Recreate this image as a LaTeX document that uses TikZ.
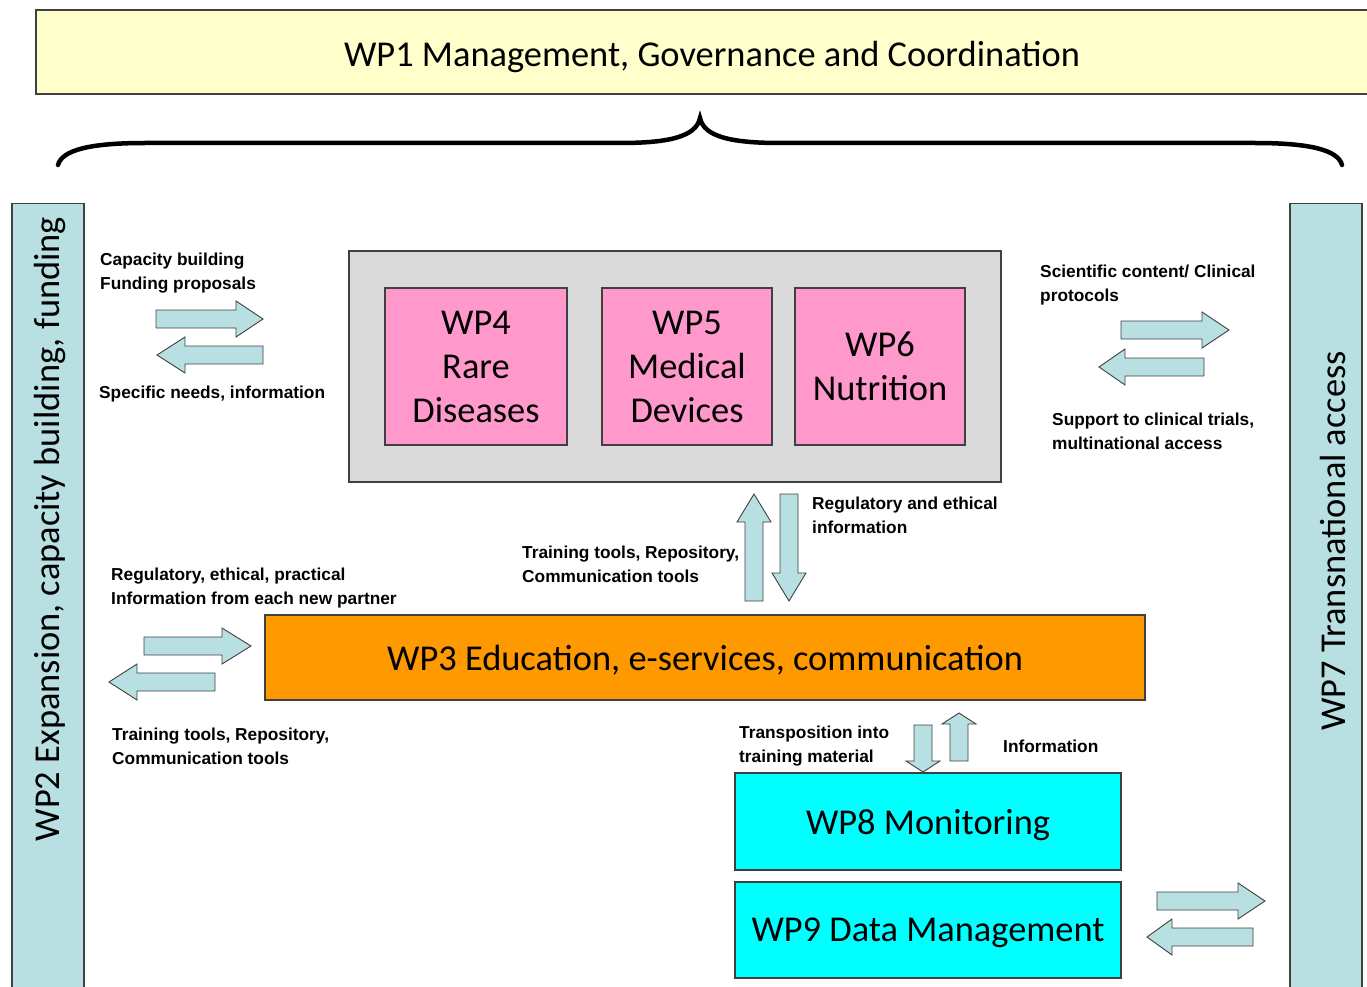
\documentclass[tikz,border=0pt]{standalone}
\usepackage{fontspec}
\setmainfont{Carlito}
\newfontfamily\lblfont{Liberation Sans}
\definecolor{wpyellow}{HTML}{FFFFCC}
\definecolor{wpteal}{HTML}{B8DFE2}
\definecolor{wpgray}{HTML}{DADADA}
\definecolor{wppink}{HTML}{FF99CC}
\definecolor{wporange}{HTML}{FF9900}
\definecolor{wpcyan}{HTML}{00FFFF}
\definecolor{wpline}{HTML}{404040}
\tikzset{
  box/.style={draw=wpline, line width=1.3pt, inner sep=0pt, align=center},
  bigtext/.style={font=\fontsize{36.4}{44}\selectfont, text depth=0pt},
  lbl/.style={font=\lblfont\bfseries\fontsize{17.3}{24}\selectfont, align=left, inner sep=0pt, anchor=west},
  barrow/.style={draw=wpline, line width=0.9pt, fill=wpteal, line join=miter},
}
% horizontal block arrow: y-center, x-tail, x-headbase, x-tip
\newcommand\arrH[4]{\draw[barrow] (#2,#1-9) -- (#3,#1-9) -- (#3,#1-18) -- (#4,#1) -- (#3,#1+18) -- (#3,#1+9) -- (#2,#1+9) -- cycle;}
% vertical block arrow: x-center, y-tail, y-headbase, y-tip
\newcommand\arrV[4]{\draw[barrow] (#1-9,#2) -- (#1-9,#3) -- (#1-17,#3) -- (#1,#4) -- (#1+17,#3) -- (#1+9,#3) -- (#1+9,#2) -- cycle;}
\begin{document}
\begin{tikzpicture}[x=1pt,y=-1pt]
\useasboundingbox (0,0) rectangle (1367,987);
\clip (0,0) rectangle (1367,987);
% WP1
\node[box, fill=wpyellow, minimum width=1352pt, minimum height=84pt] (wp1) at (712,52) {};
\node[bigtext, inner sep=0pt] (wp1t) at (712,54) {WP1 Management, Governance and Coordination};
% brace
\draw[line width=4.5pt, line cap=round] (58,165) .. controls (62,150) and (90,143) .. (145,143) -- (620,143) .. controls (668,143) and (696,137) .. (700,118) .. controls (704,137) and (732,143) .. (780,143) -- (1255,143) .. controls (1310,143) and (1338,150) .. (1342,165);
% side bars
\node[box, fill=wpteal, minimum width=72pt, minimum height=820pt, anchor=north] (wp2) at (48,203) {};
\node[bigtext, rotate=90, inner sep=0pt] (wp2t) at (47,529) {WP2 Expansion, capacity building, funding};
\node[box, fill=wpteal, minimum width=72pt, minimum height=820pt, anchor=north] (wp7) at (1326,203) {};
\node[bigtext, rotate=90, inner sep=0pt] (wp7t) at (1333,541) {WP7 Transnational access};
% gray group
\node[box, fill=wpgray, minimum width=652pt, minimum height=231pt] (grp) at (675,366.5) {};
\node[box, bigtext, fill=wppink, minimum width=182pt, minimum height=157pt] (wp4) at (476,366.5) {WP4\\Rare\\Diseases};
\node[box, bigtext, fill=wppink, minimum width=170pt, minimum height=157pt] (wp5) at (687,366.5) {WP5\\Medical\\Devices};
\node[box, bigtext, fill=wppink, minimum width=170pt, minimum height=157pt] (wp6) at (880,366.5) {WP6\\Nutrition};
% WP3, WP8, WP9
\node[box, bigtext, fill=wporange, minimum width=880pt, minimum height=85pt] (wp3) at (705,657.5) {WP3 Education, e-services, communication};
\node[box, bigtext, fill=wpcyan, minimum width=386pt, minimum height=97pt] (wp8) at (928,821.5) {WP8 Monitoring};
\node[box, bigtext, fill=wpcyan, minimum width=386pt, minimum height=96pt] (wp9) at (928,930) {WP9 Data Management};
% block arrows
\arrH{319}{156}{236}{263}
\arrH{355}{263}{185}{157}
\arrH{330}{1121}{1202}{1229}
\arrH{367}{1204}{1125}{1099}
\arrV{754}{601}{522}{494}
\arrV{789}{494}{573}{601}
\arrH{646}{144}{222}{251}
\arrH{682}{215}{137}{109}
\arrV{923}{725}{761}{772}
\arrV{959}{761}{724}{713}
\arrH{901}{1157}{1238}{1265}
\arrH{937}{1253}{1172}{1147}
% labels
\node[lbl] (l1) at (100,273) {Capacity building\\Funding proposals};
\node[lbl] (l2) at (99,394) {Specific needs, information};
\node[lbl] (l3) at (1040,285) {Scientific content/ Clinical\\protocols};
\node[lbl] (l4) at (1052,431) {Support to clinical trials,\\multinational access};
\node[lbl] (l5) at (812,515) {Regulatory and ethical\\information};
\node[lbl] (l6) at (522,564) {Training tools, Repository,\\Communication tools};
\node[lbl] (l7) at (111,588) {Regulatory, ethical, practical\\Information from each new partner};
\node[lbl] (l8) at (112,746) {Training tools, Repository,\\Communication tools};
\node[lbl] (l9) at (739,746) {Transposition into\\training material};
\node[lbl] (l10) at (1003,746) {Information};
\end{tikzpicture}
\end{document}
